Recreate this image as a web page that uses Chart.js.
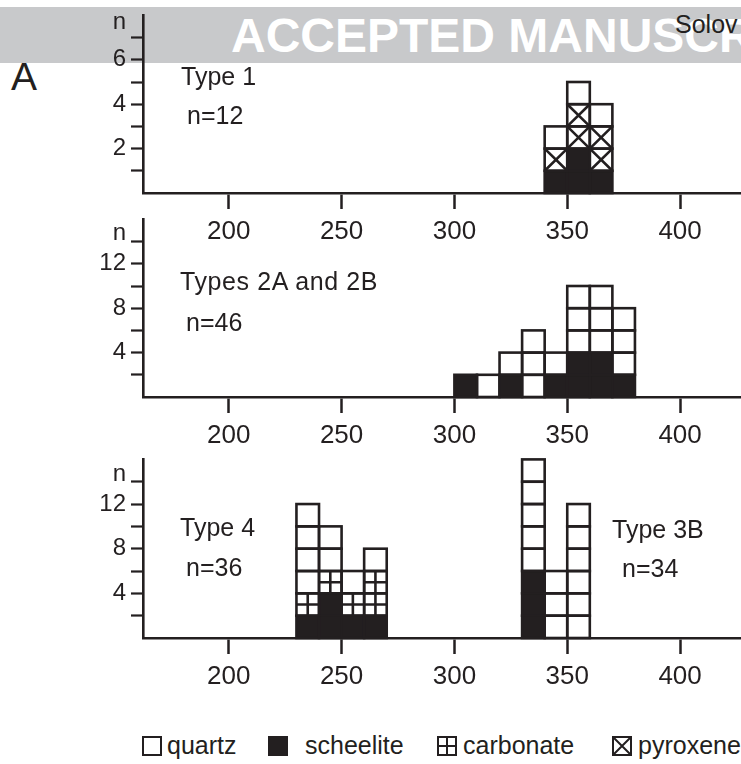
<!DOCTYPE html>
<html lang="en">
<head>
    <meta charset="UTF-8">
    <title>Fluid inclusion homogenization histograms</title>
    <script src="https://cdn.jsdelivr.net/npm/chart.js@4.4.1/dist/chart.umd.min.js"></script>
    <style>
        html, body { margin: 0; padding: 0; background: #fff; }
        body {
            width: 741px; height: 764px; position: relative; overflow: hidden;
            font-family: "Liberation Sans", Arial, sans-serif; color: #231f20;
        }
        canvas { position: absolute; left: 0; }
        .banner { position: absolute; left: 0; top: 7px; width: 741px; height: 56px; background: #c8c9cb; }
        .stamp { position: absolute; left: 231px; top: 12px; font-size: 48px; line-height: 48px;
                 font-weight: bold; color: #fff; white-space: nowrap; }
        .author { position: absolute; left: 675px; top: 12px; font-size: 25px; line-height: 25px; white-space: nowrap; }
        .panel-letter { position: absolute; left: 11px; top: 57px; font-size: 39px; line-height: 39px; }
        .note { position: absolute; font-size: 25px; line-height: 25px; white-space: nowrap; }
        .legend { position: absolute; top: 733px; font-size: 25px; line-height: 25px; white-space: nowrap; }
        .legend svg { position: absolute; top: 3px; }
    </style>
</head>
<body>
    <div class="banner"></div>
    <div class="stamp">ACCEPTED MANUSCRIPT</div>
    <div class="author">Solov</div>
    <div class="panel-letter">A</div>

    <canvas id="panel1" width="741" height="254" style="top:-4px"></canvas>
    <canvas id="panel2" width="741" height="254" style="top:200px"></canvas>
    <canvas id="panel3" width="741" height="255" style="top:440px"></canvas>

    <div class="note" style="left:181px; top:64px">Type 1</div>
    <div class="note" style="left:187px; top:103px">n=12</div>
    <div class="note" style="left:180px; top:269px; letter-spacing:0.6px">Types 2A and 2B</div>
    <div class="note" style="left:186px; top:310px">n=46</div>
    <div class="note" style="left:180px; top:515px">Type 4</div>
    <div class="note" style="left:186px; top:555px">n=36</div>
    <div class="note" style="left:612px; top:517px">Type 3B</div>
    <div class="note" style="left:622px; top:556px">n=34</div>

    <div id="legend"></div>

    <script>
        // histogram bins: lower edge of each 10-degree class
        const binWidth = 10;

        const type1Bins = [340, 350, 360];
        const type1Scheelite = [1, 2, 1];
        const type1Pyroxene = [1, 2, 2];
        const type1Quartz = [1, 1, 1];

        const type2Bins = [300, 310, 320, 330, 340, 350, 360, 370];
        const type2Scheelite = [2, 0, 2, 0, 2, 4, 4, 2];
        const type2Quartz = [0, 2, 2, 6, 2, 6, 6, 6];

        // Type 4 (230-270) and Type 3B (330-360) share the bottom panel
        const type34Bins = [230, 240, 250, 260, 330, 340, 350];
        const type34Scheelite = [2, 4, 2, 2, 6, 0, 0];
        const type34Carbonate = [2, 2, 2, 4, 0, 0, 0];
        const type34Quartz = [8, 4, 2, 2, 10, 6, 12];

        const xTicks = [200, 250, 300, 350, 400];
        const xMin = 162, xMax = 427;

        const ink = '#231f20';

        // one stacked layer per mineral; bottom to top
        const minerals = {
            scheelite: { fill: ink, pattern: 'none' },
            carbonate: { fill: '#fff', pattern: 'plus' },
            pyroxene: { fill: '#fff', pattern: 'cross' },
            quartz: { fill: '#fff', pattern: 'none' }
        };

        function drawPattern(ctx, pattern, x, y, w, h) {
            ctx.beginPath();
            if (pattern === 'plus') {
                ctx.moveTo(x + w / 2, y); ctx.lineTo(x + w / 2, y + h);
                ctx.moveTo(x, y + h / 2); ctx.lineTo(x + w, y + h / 2);
            } else if (pattern === 'cross') {
                ctx.moveTo(x, y); ctx.lineTo(x + w, y + h);
                ctx.moveTo(x + w, y); ctx.lineTo(x, y + h);
            }
            ctx.stroke();
        }

        // splits every stacked bar into unit boxes, like the hand-drawn histogram
        const boxPlugin = {
            id: 'boxes',
            afterDatasetsDraw(chart, args, opts) {
                const ctx = chart.ctx;
                const ys = chart.scales.y;
                const boxH = Math.abs(ys.getPixelForValue(0) - ys.getPixelForValue(opts.unit));
                ctx.save();
                ctx.strokeStyle = ink;
                ctx.lineWidth = 2.6;
                chart.data.datasets.forEach((ds, di) => {
                    const meta = chart.getDatasetMeta(di);
                    meta.data.forEach(bar => {
                        const p = bar.getProps(['x', 'y', 'base', 'width'], true);
                        const h = p.base - p.y;
                        if (h < 1) return;
                        const n = Math.round(h / boxH);
                        const left = p.x - p.width / 2;
                        for (let k = 0; k < n; k++) {
                            const top = p.base - (k + 1) * boxH;
                            drawPattern(ctx, minerals[ds.mineral].pattern, left, top, p.width, boxH);
                            ctx.strokeRect(left, top, p.width, boxH);
                        }
                    });
                });
                ctx.restore();
            }
        };

        function makePanel(id, bins, series, cfg) {
            const datasets = Object.keys(series).map(name => ({
                label: name,
                mineral: name,
                data: bins.map((b, i) => ({ x: b + binWidth / 2, y: series[name][i] })),
                backgroundColor: minerals[name].fill,
                borderWidth: 0,
                barPercentage: 1,
                categoryPercentage: 1
            }));

            new Chart(document.getElementById(id), {
                type: 'bar',
                data: { datasets: datasets },
                options: {
                    responsive: false,
                    animation: false,
                    devicePixelRatio: 1,
                    layout: { padding: { top: cfg.padTop, left: 0, right: 0, bottom: 0 } },
                    plugins: {
                        legend: { display: false },
                        tooltip: { enabled: false },
                        boxes: { unit: cfg.unit }
                    },
                    scales: {
                        x: {
                            type: 'linear',
                            stacked: true,
                            offset: false,
                            min: xMin,
                            max: xMax,
                            afterBuildTicks: axis => { axis.ticks = xTicks.map(v => ({ value: v })); },
                            afterFit: axis => { axis.height = 57; },
                            border: { display: true, color: ink, width: 2.6 },
                            grid: { offset: false, drawOnChartArea: false, tickLength: 16, tickWidth: 2.5, tickColor: ink },
                            ticks: {
                                autoSkip: false, maxRotation: 0, padding: 7, color: ink,
                                font: { family: "'Liberation Sans', Arial, sans-serif", size: 26 }
                            }
                        },
                        y: {
                            stacked: true,
                            min: 0,
                            max: cfg.yMax,
                            afterBuildTicks: axis => {
                                axis.ticks = cfg.yTicks.concat([cfg.nAt]).map(v => ({ value: v }));
                            },
                            afterFit: axis => { axis.width = 143; },
                            border: { display: true, color: ink, width: 2.6 },
                            grid: {
                                drawOnChartArea: false, tickLength: 12, tickWidth: 2.2,
                                tickColor: c => (c.tick && c.tick.value === cfg.nAt) ? 'rgba(0,0,0,0)' : ink
                            },
                            ticks: {
                                autoSkip: false, padding: 5, color: ink,
                                font: { family: "'Liberation Sans', Arial, sans-serif", size: 24 },
                                callback: v => v === cfg.nAt ? 'n' : (cfg.yLabels.includes(v) ? String(v) : '')
                            }
                        }
                    }
                },
                plugins: [boxPlugin]
            });
        }

        makePanel('panel1', type1Bins,
            { scheelite: type1Scheelite, pyroxene: type1Pyroxene, quartz: type1Quartz },
            { unit: 1, yMax: 8, padTop: 16, nAt: 7.7, yTicks: [1, 2, 3, 4, 5, 6, 7], yLabels: [2, 4, 6] });

        makePanel('panel2', type2Bins,
            { scheelite: type2Scheelite, quartz: type2Quartz },
            { unit: 2, yMax: 16, padTop: 16, nAt: 14.7, yTicks: [2, 4, 6, 8, 10, 12, 14], yLabels: [4, 8, 12] });

        makePanel('panel3', type34Bins,
            { scheelite: type34Scheelite, carbonate: type34Carbonate, quartz: type34Quartz },
            { unit: 2, yMax: 16, padTop: 17, nAt: 14.7, yTicks: [2, 4, 6, 8, 10, 12, 14], yLabels: [4, 8, 12] });

        // legend row under the last panel
        function legendIcon(pattern, fill) {
            let lines = '';
            if (pattern === 'plus') lines = '<path d="M10 1V19M1 10H19" stroke="' + ink + '" stroke-width="2"/>';
            if (pattern === 'cross') lines = '<path d="M1 1L19 19M19 1L1 19" stroke="' + ink + '" stroke-width="2"/>';
            return '<svg width="20" height="20" viewBox="0 0 20 20"><rect x="1" y="1" width="18" height="18" fill="' +
                fill + '" stroke="' + ink + '" stroke-width="2"/>' + lines + '</svg>';
        }
        const legendItems = [
            { name: 'quartz', icon: 142, text: 167 },
            { name: 'scheelite', icon: 268, text: 305 },
            { name: 'carbonate', icon: 437, text: 463 },
            { name: 'pyroxene', icon: 612, text: 638 }
        ];
        const legendEl = document.getElementById('legend');
        legendItems.forEach(item => {
            const m = minerals[item.name];
            const d = document.createElement('div');
            d.className = 'legend';
            d.style.left = item.icon + 'px';
            d.innerHTML = legendIcon(m.pattern, m.fill).replace('<svg', '<svg style="left:0"') +
                '<span style="position:absolute; left:' + (item.text - item.icon) + 'px">' + item.name + '</span>';
            legendEl.appendChild(d);
        });
    </script>
</body>
</html>
